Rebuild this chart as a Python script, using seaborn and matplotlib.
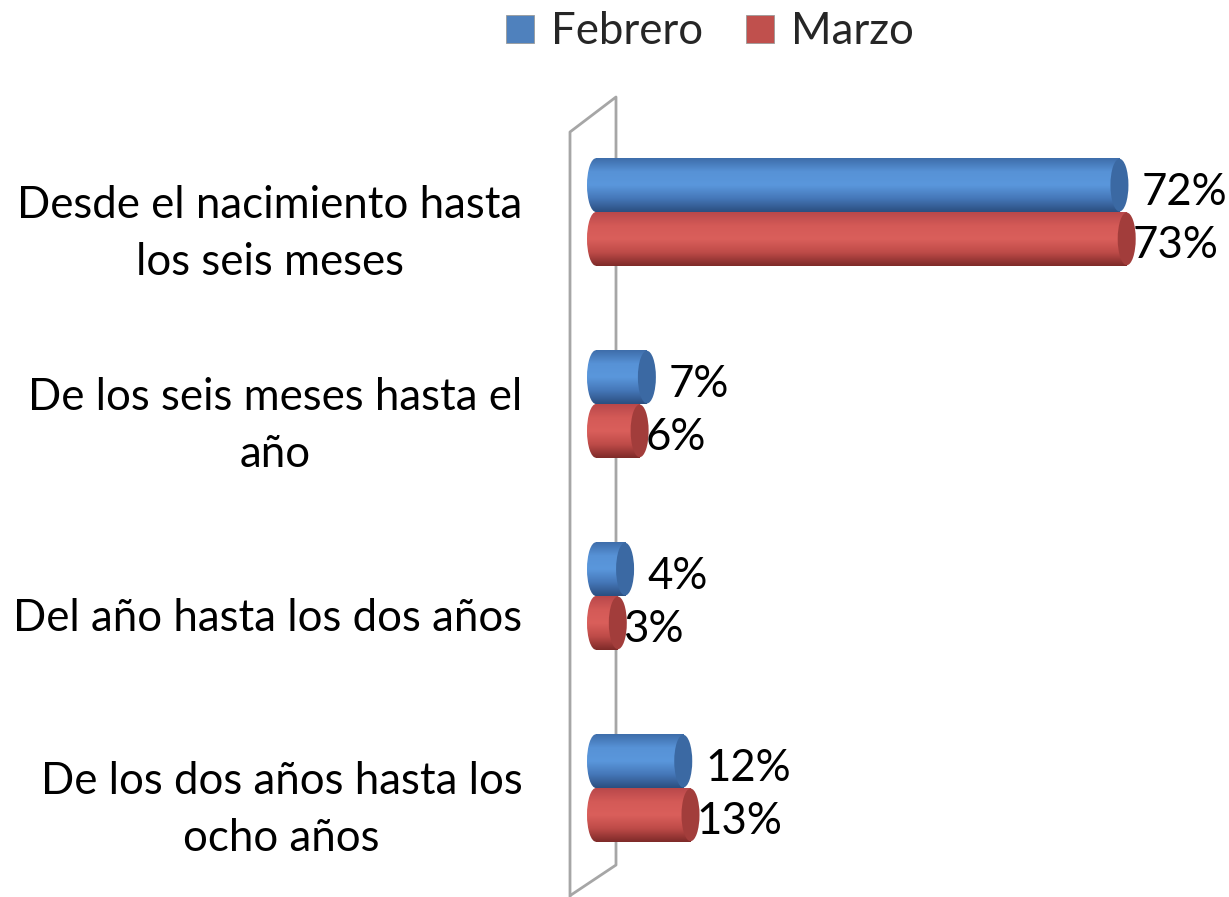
import numpy as np
import pandas as pd
import matplotlib
matplotlib.use("Agg")
import matplotlib.pyplot as plt
from matplotlib.colors import LinearSegmentedColormap
from matplotlib.lines import Line2D
from matplotlib.patches import Ellipse
import seaborn as sns

sns.set_theme(style="white")
plt.rcParams["font.family"] = ["Lato", "DejaVu Sans"]

CATEGORIAS = [
    "Desde el nacimiento hasta\nlos seis meses",
    "De los seis meses hasta el\naño",
    "Del año hasta los dos años",
    "De los dos años hasta los\nocho años",
]
MESES = ["Febrero", "Marzo"]
FEBRERO = [72, 7, 4, 12]
MARZO = [73, 6, 3, 13]

COLORS = {"Febrero": "#4F81BD", "Marzo": "#C0504D"}
# cylinder shading: top -> middle -> bottom
SHADES = {
    "Febrero": ["#3E6DAA", "#5792D6", "#5A97DC", "#4577B8", "#2B4F80"],
    "Marzo": ["#B9484A", "#D45A57", "#DA5F5B", "#BE4B48", "#7E2A29"],
}
CAPS = {"Febrero": "#3B69A3", "Marzo": "#A23D3B"}

df = pd.DataFrame(
    {
        "categoria": CATEGORIAS * 2,
        "mes": [MESES[0]] * len(FEBRERO) + [MESES[1]] * len(MARZO),
        "valor": FEBRERO + MARZO,
    }
)

W, H = 1229, 897
PX_PER_PCT = 7.27
X0 = 596          # pixel position of 0 %
AX_LEFT = 580     # axes start a bit left so the rounded bar starts are visible
FS = 31.5

fig = plt.figure(figsize=(W / 100, H / 100), dpi=100)
ax = fig.add_axes([AX_LEFT / W, 1 - 884 / H, (W - AX_LEFT) / W, 768 / H])

sns.barplot(
    data=df,
    x="valor",
    y="categoria",
    hue="mes",
    orient="h",
    palette=COLORS,
    width=0.56,
    saturation=1,
    legend=False,
    ax=ax,
)

ew = 18 / PX_PER_PCT  # ellipse width of the cylinder ends, in data units
grad = np.linspace(0, 1, 200).reshape(-1, 1)

for mes, cont in zip(MESES, ax.containers):
    cmap = LinearSegmentedColormap.from_list(mes, SHADES[mes])
    dx = 16 if mes == "Febrero" else 4
    for bar, v in zip(cont.patches, cont.datavalues):
        y, h = bar.get_y(), bar.get_height()
        bar.set_alpha(0)
        # body
        ax.imshow(grad, cmap=cmap, extent=(0, v, y + h, y), origin="upper",
                  aspect="auto", interpolation="bicubic", zorder=2)
        # rounded start
        e0 = Ellipse((0, y + h / 2), ew, h, facecolor="none", edgecolor="none")
        ax.add_patch(e0)
        im = ax.imshow(grad, cmap=cmap, extent=(-ew / 2, 0, y + h, y), origin="upper",
                       aspect="auto", interpolation="bicubic", zorder=2)
        im.set_clip_path(e0)
        # end cap
        ax.add_patch(Ellipse((v, y + h / 2), ew, h * 0.98, facecolor=CAPS[mes],
                             edgecolor="none", zorder=3))
        ax.annotate(f"{v:.0f}%", xy=(v, y + h / 2), xytext=(dx, -5),
                    textcoords="offset points", ha="left", va="center",
                    fontsize=FS, color="black", zorder=5)

for i, cat in enumerate(CATEGORIAS):
    ax.annotate(cat, xy=(0, i), xycoords="data",
                xytext=(-53, -16), textcoords="offset points",
                ha="right", va="center", multialignment="center",
                linespacing=1.5, fontsize=FS, color="black")

ax.set_xlim(-(X0 - AX_LEFT) / PX_PER_PCT, (W - X0) / PX_PER_PCT)
ax.set_ylim(len(CATEGORIAS) - 0.5, -0.5)
ax.axis("off")

# the 3D wall behind the bars
wall_x = np.array([570, 570, 616, 616, 571]) / W
wall_y = 1 - np.array([897, 132, 97, 865, 895]) / H
fig.add_artist(Line2D(wall_x, wall_y, color="#A6A6A6", linewidth=2, zorder=0))

handles = [
    Line2D([], [], marker="s", linestyle="none", markersize=20,
           markerfacecolor=COLORS[m], markeredgecolor="#9A9A9A", markeredgewidth=0.6)
    for m in MESES
]
fig.legend(handles, MESES, loc="center", bbox_to_anchor=(706 / W, 1 - 32 / H),
           ncol=2, frameon=False, fontsize=FS, handletextpad=0.2,
           columnspacing=0.8, handlelength=1.0)

fig.savefig("out.png", dpi=100, facecolor="white")
